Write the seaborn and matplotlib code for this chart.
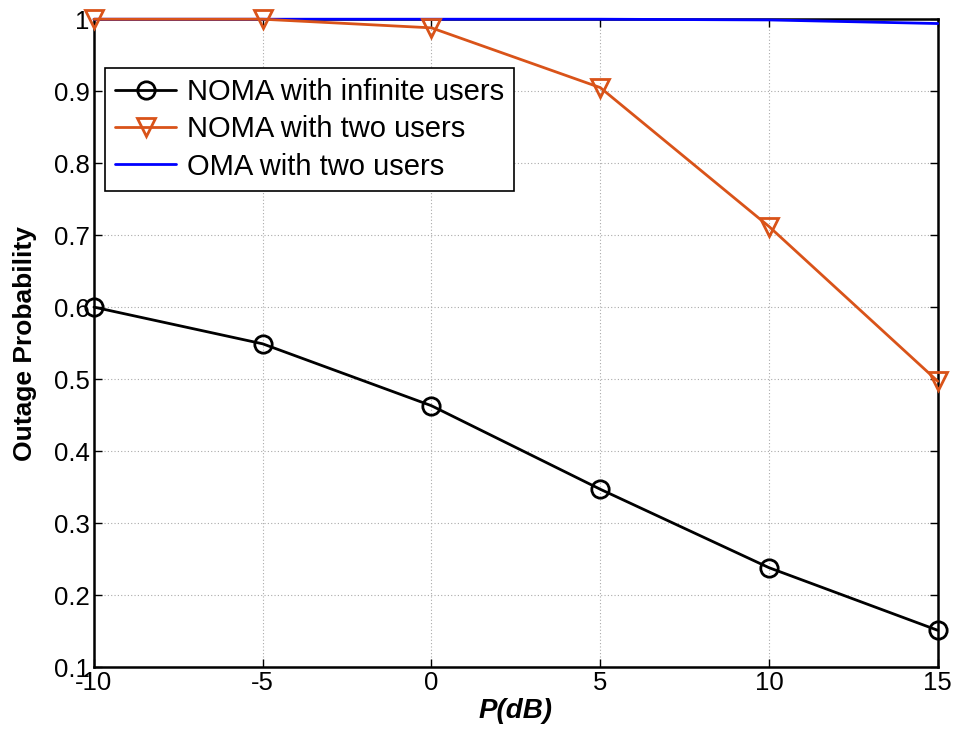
import numpy as np
import pandas as pd
import matplotlib
matplotlib.use('Agg')
import matplotlib.pyplot as plt
import seaborn as sns

# datos
p_db = [-10, -5, 0, 5, 10, 15]
noma_inf = [0.600, 0.549, 0.463, 0.347, 0.238, 0.151]
noma_two = [1.000, 1.000, 0.988, 0.905, 0.712, 0.497]
oma_two = [1.000, 1.000, 1.000, 1.000, 0.999, 0.994]

sns.set_style('ticks')
plt.rcParams['font.family'] = ['Liberation Sans', 'DejaVu Sans']
plt.rcParams.update({'text.color': 'black', 'axes.labelcolor': 'black',
                     'xtick.color': 'black', 'ytick.color': 'black'})

fig = plt.figure(figsize=(9.54, 7.39), dpi=100)
ax = fig.add_axes([0.0985, 0.0974, 0.8845, 0.8766])

sns.lineplot(x=p_db, y=noma_inf, ax=ax, color='black', lw=2.0, marker='o',
             markersize=12.5, markerfacecolor='none', markeredgecolor='black',
             markeredgewidth=2.0, clip_on=False, zorder=5,
             label='NOMA with infinite users')
sns.lineplot(x=p_db, y=noma_two, ax=ax, color='#D95319', lw=2.0, marker='v',
             markersize=13, markerfacecolor='none', markeredgecolor='#D95319',
             markeredgewidth=2.0, clip_on=False, zorder=5,
             label='NOMA with two users')
sns.lineplot(x=p_db, y=oma_two, ax=ax, color='#0000FF', lw=2.0,
             clip_on=False, zorder=4, label='OMA with two users')

ax.set_xlim(-10, 15)
ax.set_ylim(0.1, 1.0)
ax.set_xticks(p_db)
ax.set_xticklabels(['-10', '-5', '0', '5', '10', '15'])
ax.set_yticks(np.arange(0.1, 1.01, 0.1))
ax.set_yticklabels(['0.1', '0.2', '0.3', '0.4', '0.5', '0.6', '0.7', '0.8', '0.9', '1'])
ax.tick_params(direction='in', top=True, right=True, labelsize=18.5, length=6,
               width=1, pad=3)
for s in ax.spines.values():
    s.set_visible(True)
    s.set_linewidth(1.8)
    s.set_color('black')
ax.grid(True, linestyle=(0, (1, 2)), color='#aaaaaa', linewidth=0.8)

ax.set_xlabel('P(dB)', fontsize=20, fontweight='bold', fontstyle='italic', labelpad=2)
ax.set_ylabel('Outage Probability', fontsize=19, fontweight='bold', labelpad=12)

leg = ax.legend(loc='upper left', bbox_to_anchor=(0.013, 0.925), fontsize=21,
                frameon=True, fancybox=False, framealpha=1, edgecolor='black',
                handlelength=2.1, handletextpad=0.35, borderpad=0.35,
                labelspacing=0.32, borderaxespad=0)
leg.get_frame().set_linewidth(1.2)

fig.savefig('out.png', dpi=100)
